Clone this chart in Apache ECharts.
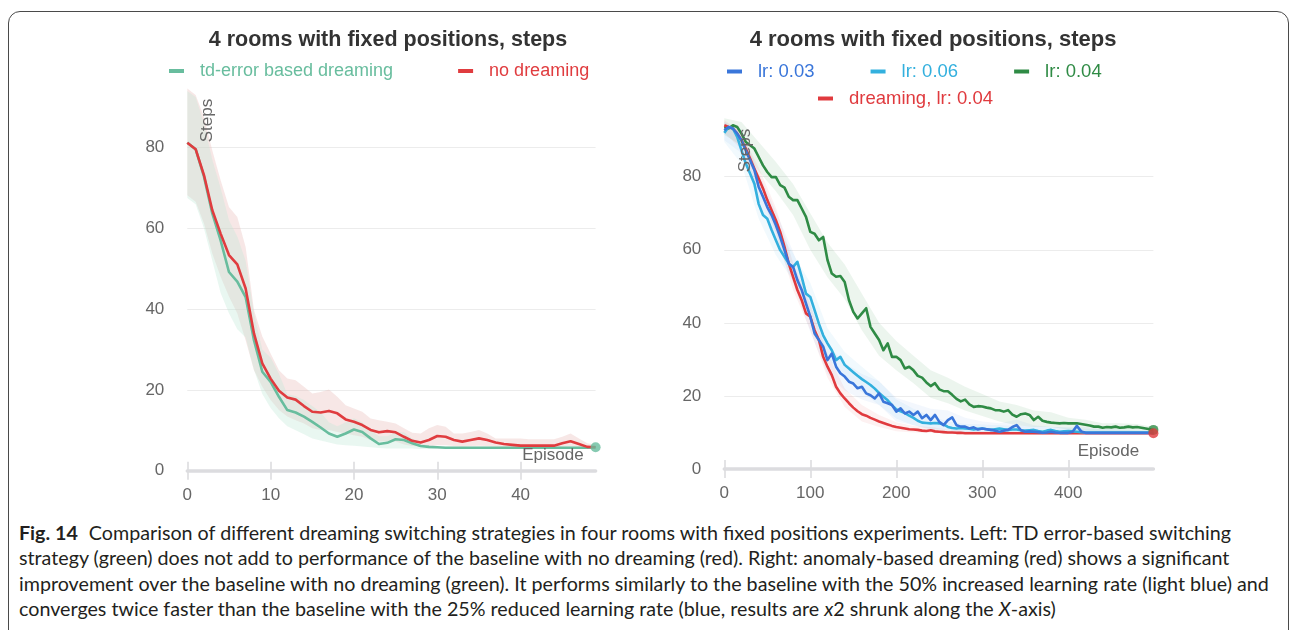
<!DOCTYPE html>
<html>
<head>
<meta charset="utf-8">
<script src="https://cdn.jsdelivr.net/npm/echarts@6/dist/echarts.min.js"></script>
<style>
  html, body { margin: 0; padding: 0; background: #fff; }
  body { width: 1293px; height: 630px; position: relative; overflow: hidden; }
  #frame {
    position: absolute; left: 8px; top: 11px; width: 1281px; height: 660px;
    border: 1.2px solid #4a4a4a; border-radius: 12px; box-sizing: border-box;
  }
  #chart { position: absolute; left: 0; top: 0; width: 1293px; height: 520px; }
  #caption {
    position: absolute; left: 19px; top: 520px;
    font-family: "Lato", "Open Sans", sans-serif; font-size: 19.7px; line-height: 25.3px;
    color: #231f20; white-space: nowrap;
  }
  #caption b { font-weight: 700; margin-right: 6px; }
</style>
</head>
<body>
<div id="frame"></div>
<div id="chart"></div>
<div id="caption">
  <div><b>Fig. 14</b> Comparison of different dreaming switching strategies in four rooms with fixed positions experiments. Left: TD error-based switching</div>
  <div>strategy (green) does not add to performance of the baseline with no dreaming (red). Right: anomaly-based dreaming (red) shows a significant</div>
  <div>improvement over the baseline with no dreaming (green). It performs similarly to the baseline with the 50% increased learning rate (light blue) and</div>
  <div>converges twice faster than the baseline with the 25% reduced learning rate (blue, results are <i>x</i>2 shrunk along the <i>X</i>-axis)</div>
</div>
<script>
// ---------- left panel: td-error switching vs. no dreaming ----------
const leftEpisodes = [0,1,2,3,4,5,6,7,8,9,10,11,12,13,14,15,16,17,18,19,20,21,22,23,24,25,26,27,28,29,30,31,32,33,34,35,36,37,38,39,40,41,42,43,44,45,46,47,48,49];
const leftTdError = [81.2,79.6,72.8,63.7,57.0,49.2,46.8,43.0,32.3,24.5,22.0,18.3,15.0,14.4,13.4,12.1,10.7,9.2,8.4,9.2,10.2,9.6,8.0,6.6,6.9,7.8,7.6,6.8,6.1,5.9,5.8,5.7,5.7,5.7,5.7,5.7,5.7,5.7,5.7,5.7,5.7,5.7,5.7,5.7,5.7,5.7,5.7,5.7,5.7,5.8];
const leftTdErrorUpper = [94.0,92.5,86.0,77.0,70.0,62.0,58.0,52.0,39.0,30.0,28.0,24.0,19.0,18.5,17.5,16.0,14.5,12.0,11.0,12.0,13.0,12.0,10.0,8.5,8.5,9.5,9.5,8.0,6.8,6.2,6.0,6.0,6.0,6.0,6.0,6.0,6.0,6.0,6.0,6.0,6.0,6.0,6.0,6.0,6.0,6.0,6.0,6.0,6.0,6.0];
const leftTdErrorLower = [67.5,66.0,60.0,52.0,44.0,39.0,35.0,33.0,25.0,19.0,15.5,13.0,11.0,10.0,9.0,8.0,7.5,7.0,6.5,6.3,6.2,6.0,5.8,5.6,5.5,5.5,5.5,5.5,5.4,5.4,5.4,5.4,5.4,5.4,5.4,5.4,5.4,5.4,5.4,5.4,5.4,5.4,5.4,5.4,5.4,5.4,5.4,5.4,5.4,5.4];
const leftNoDreaming = [81.2,79.6,73.2,64.5,58.7,53.4,51.1,45.1,34.0,26.6,22.8,19.8,18.1,17.6,16.0,14.6,14.4,14.8,14.2,12.7,12.1,11.3,10.1,9.5,9.8,9.5,8.4,7.4,7.0,7.6,8.6,8.4,7.6,7.2,7.6,8.0,7.6,7.0,6.6,6.4,6.2,6.2,6.2,6.2,6.2,6.8,7.3,6.6,5.9,5.8];
const leftNoDreamingUpper = [94.6,93.0,87.6,79.3,71.9,65.3,62.8,55.4,39.8,33.2,29.0,24.9,22.8,22.4,20.8,19.1,19.5,20.1,18.3,16.2,15.4,14.6,12.9,12.5,12.1,11.7,10.5,9.4,9.2,10.5,11.3,10.9,9.2,9.2,9.6,10.1,9.2,8.0,8.0,8.0,8.0,7.8,7.8,7.8,7.8,8.4,9.2,8.0,6.8,6.4];
const leftNoDreamingLower = [68.2,66.6,61.2,53.8,48.0,43.1,38.9,32.3,24.9,20.8,17.5,15.0,13.4,12.5,11.7,10.5,10.1,10.1,9.6,9.2,8.8,8.4,7.6,7.2,7.3,7.2,6.5,6.1,6.0,6.1,6.3,6.3,6.1,6.0,6.1,6.2,6.1,6.0,5.9,5.8,5.7,5.7,5.7,5.7,5.7,5.9,6.0,5.8,5.6,5.6];
const leftXTicks = [0,10,20,30,40];
const leftYTicks = [0,20,40,60,80];

// ---------- right panel: learning rates vs. anomaly-based dreaming ----------
const rightEpisodes = [0,5,10,15,20,25,30,35,40,45,50,55,60,65,70,75,80,85,90,95,100,105,110,115,120,125,130,135,140,145,150,155,160,165,170,175,180,185,190,195,200,205,210,215,220,225,230,235,240,245,250,255,260,265,270,275,280,285,290,295,300,305,310,315,320,325,330,335,340,345,350,355,360,365,370,375,380,385,390,395,400,405,410,415,420,425,430,435,440,445,450,455,460,465,470,475,480,485,490,495,499];
const rightLr003 = [92.7,93.6,93.2,91.8,90.0,87.2,84.5,81.8,77.2,74.5,71.7,69.5,66.7,63.5,59.9,56.2,55.3,51.7,49.0,45.3,41.7,37.1,35.3,33.5,29.8,31.6,28.0,26.2,25.3,23.9,23.4,22.1,22.5,20.7,20.2,19.3,20.7,18.4,18.0,17.5,15.7,16.6,15.2,15.7,14.8,15.7,13.9,14.8,13.4,14.8,12.9,12.0,13.4,14.1,12.0,11.6,11.6,11.1,11.4,10.8,11.1,10.9,10.7,10.5,10.2,10.5,10.7,11.5,12.0,10.6,10.2,10.3,10.2,10.1,9.9,10.0,10.2,10.0,9.9,9.9,9.9,10.2,11.8,10.3,9.9,9.9,9.9,9.9,9.9,9.9,9.9,9.9,9.9,9.9,9.9,9.9,9.9,9.9,9.9,9.9,9.9];
const rightLr006 = [92.0,93.6,93.2,90.9,87.2,83.6,80.9,78.1,72.5,69.5,68.5,65.4,62.6,59.9,58.1,56.2,55.3,56.7,52.6,48.0,47.1,43.5,39.8,36.6,34.4,32.5,29.8,30.7,28.5,27.5,26.5,25.5,24.6,23.8,23.0,22.0,20.8,19.8,18.8,17.5,16.3,15.8,15.3,14.6,14.0,13.2,12.7,12.6,12.5,12.6,12.5,12.2,11.5,11.2,11.1,11.2,11.1,11.0,10.8,11.0,11.1,10.9,10.7,10.9,11.1,10.9,10.7,10.8,10.8,10.6,10.5,10.6,10.7,10.4,10.2,10.5,10.7,10.4,10.2,10.3,10.4,10.3,10.2,10.1,10.0,10.0,10.0,10.0,10.0,10.0,10.0,10.0,10.0,10.0,10.0,10.0,10.0,10.0,10.0,10.0,10.0];
const rightLr004 = [93.6,93.2,94.1,93.6,91.8,89.5,88.6,87.7,85.4,83.1,81.3,79.9,79.9,77.7,77.0,74.5,73.6,73.6,71.3,69.0,64.9,64.4,62.6,63.5,57.2,53.5,52.6,52.8,51.2,46.2,43.0,41.2,42.6,44.0,38.9,37.1,35.3,32.5,34.4,30.7,30.7,29.8,27.5,28.0,27.0,25.5,25.0,23.7,22.7,23.5,21.8,21.3,21.3,20.3,19.2,18.5,19.0,17.7,17.0,17.2,17.1,16.8,16.6,16.1,16.1,15.7,16.1,14.9,14.3,15.0,15.2,14.8,13.4,14.3,13.2,12.9,12.7,12.6,12.5,12.6,12.5,12.5,12.5,12.3,12.1,11.9,11.6,11.6,11.3,11.5,11.4,11.6,11.3,11.4,11.6,11.4,11.5,11.3,11.1,10.9,10.7];
const rightDreaming = [94.1,93.6,93.2,91.8,90.0,87.7,85.0,82.2,79.5,76.8,73.6,70.8,68.1,64.9,60.8,56.2,52.6,49.0,46.2,42.6,41.7,38.0,35.3,30.7,28.0,25.7,22.5,20.7,19.3,18.0,16.8,15.8,15.0,14.6,14.0,13.5,13.0,12.6,12.2,11.8,11.5,11.3,11.1,10.9,10.8,10.7,10.5,10.4,10.6,10.3,10.2,10.1,10.0,10.0,9.9,9.9,9.8,9.8,9.8,9.8,9.8,9.8,9.8,9.8,9.8,9.8,9.8,9.8,9.8,9.8,9.8,9.8,9.8,9.8,9.8,9.8,9.8,9.8,9.8,9.8,9.8,9.8,9.8,9.8,9.8,9.8,9.8,9.8,9.8,9.8,9.8,9.8,9.8,9.8,9.8,9.8,9.8,9.8,9.8,9.8,9.8];

// spread bands, sampled more coarsely
const rightBandEpisodes = [0,20,40,60,80,100,120,140,160,180,200,220,240,260,280,300,320,340,360,380,400,420,440,460,480,499];
const rightLr003Upper = [95,93,81,70.5,59.5,46,34,29,26,24,19.5,18,16.5,16,14,13,12.5,13.5,12,11.5,11.5,11.5,11,10.8,10.5,10.3];
const rightLr003Lower = [90,86.5,73,62.5,51,37.5,26,21.5,19,17.5,13,12,11,10.8,9.8,9.6,9.4,9.5,9.4,9.4,9.4,9.4,9.4,9.4,9.4,9.4];
const rightLr006Upper = [95,90.5,76.5,66.5,59,51,38.5,32,28,24,19,16.5,14.5,13,12.3,12.2,12,11.8,11.6,11.5,11.2,11,10.8,10.8,10.8,10.8];
const rightLr006Lower = [89.5,83.5,68.5,58.5,51.5,43,30.5,25,21,17.5,13.8,12,10.8,10.2,10,10,10,9.9,9.8,9.8,9.7,9.6,9.6,9.6,9.6,9.6];
const rightLr004Upper = [96,95,89.5,84,78,70,62,56,48,40,35,31,27,25,22.5,20.5,18.5,17.5,16,15.5,14,13.5,12.5,12.5,12.3,11.5];
const rightLr004Lower = [91.5,88.5,81.5,76,69.5,60,52.5,46.5,38,31,27,23.5,19.5,18,16,14.5,13,12,11.5,11.5,10.8,10.5,10.2,10.2,10.2,10];
const rightDreamingUpper = [95.5,92,82.5,71.5,56.5,45,31.5,22,17.5,14.8,12.8,11.8,11.5,10.8,10.4,10.3,10.3,10.2,10.2,10.2,10.2,10.2,10.2,10.2,10.2,10.2];
const rightDreamingLower = [92,87.5,76.5,64.5,49,38,25,17,13,11.5,10.3,10,9.9,9.6,9.5,9.5,9.5,9.5,9.5,9.5,9.5,9.5,9.5,9.5,9.5,9.5];
const rightXTicks = [0,100,200,300,400];
const rightYTicks = [0,20,40,60,80];

const COLORS = {
  tdError: '#68bd9e',
  noDreaming: '#e03c3f',
  lr003: '#3a76da',
  lr006: '#33b0de',
  lr004: '#2f8b45',
  dreaming: '#e03a3e'
};
const FONT = 'Liberation Sans, Arial, sans-serif';
const AXIS_GREY = '#dcdcdf';
const LABEL_GREY = '#666';

const pairs = (xs, ys) => xs.map((x, i) => [x, ys[i]]);

// shaded spread between a lower and an upper curve, drawn as one polygon
function band(xs, lower, upper, color, opacity, axis) {
  return {
    type: 'custom', xAxisIndex: axis.x, yAxisIndex: axis.y, silent: true, z: 1,
    data: xs.map((x, i) => [x, lower[i], upper[i]]),
    encode: { x: 0, y: [1, 2] },
    renderItem: function (params, api) {
      if (params.dataIndex !== 0) return null;
      const top = xs.map((x, i) => api.coord([x, upper[i]]));
      const bottom = xs.map((x, i) => api.coord([x, lower[i]])).reverse();
      return {
        type: 'polygon',
        shape: { points: top.concat(bottom) },
        style: { fill: color, opacity: opacity }
      };
    }
  };
}

function mainLine(name, xs, ys, color, axis, z) {
  return {
    type: 'line', name: name, xAxisIndex: axis.x, yAxisIndex: axis.y,
    data: pairs(xs, ys), showSymbol: false, color: color, z: z,
    lineStyle: { width: 2.6, color: color, join: 'round' }
  };
}

function endDot(name, xs, ys, color, axis, z) {
  const n = xs.length - 1;
  return {
    type: 'scatter', name: name + '-end', xAxisIndex: axis.x, yAxisIndex: axis.y,
    data: [[xs[n], ys[n]]], symbolSize: 10, itemStyle: { color: color }, z: z, silent: true
  };
}

function xAxisPair(gridIndex, max, ticks) {
  const common = {
    type: 'value', gridIndex: gridIndex, min: 0, max: max, position: 'bottom',
    splitLine: { show: false }
  };
  return [
    Object.assign({}, common, {
      axisLine: { show: true, onZero: false, lineStyle: { color: AXIS_GREY, width: 3.5 } },
      axisTick: { show: true, customValues: ticks, length: 9, inside: false, lineStyle: { color: AXIS_GREY, width: 1.6 } },
      axisLabel: { customValues: ticks, margin: 16, color: LABEL_GREY, fontSize: 17, fontFamily: FONT }
    }),
    Object.assign({}, common, {
      axisLine: { show: false, onZero: false },
      axisTick: { show: true, customValues: ticks, length: 9, inside: true, lineStyle: { color: AXIS_GREY, width: 1.6 } },
      axisLabel: { show: false }
    })
  ];
}

function yAxis(gridIndex, max, ticks) {
  return {
    type: 'value', gridIndex: gridIndex, min: 0, max: max,
    axisLine: { show: false },
    axisTick: { show: false, customValues: ticks },
    axisLabel: { customValues: ticks, margin: 23, color: LABEL_GREY, fontSize: 17, fontFamily: FONT },
    splitLine: { show: true, showMinLine: false, lineStyle: { color: '#ececec', width: 1 } }
  };
}

const L = { x: 0, y: 0 };
const R = { x: 2, y: 1 };

const legendText = (color) => ({ color: color, padding: [0, 0, 0, 11] });

const option = {
  animation: false,
  backgroundColor: 'transparent',
  title: [
    {
      text: '4 rooms with fixed positions, steps', left: 383, top: 24, textAlign: 'center',
      textStyle: { fontFamily: FONT, fontSize: 21.5, fontWeight: 'bold', color: '#333' }
    },
    {
      text: '4 rooms with fixed positions, steps', left: 928, top: 24, textAlign: 'center',
      textStyle: { fontFamily: FONT, fontSize: 22, fontWeight: 'bold', color: '#333' }
    }
  ],
  legend: [
    {
      left: 169, top: 62, padding: 0, icon: 'rect', itemWidth: 15, itemHeight: 4, itemGap: 65, selectedMode: false,
      textStyle: { fontFamily: FONT, fontSize: 18 },
      data: [
        { name: 'td-error based dreaming', textStyle: legendText(COLORS.tdError) },
        { name: 'no dreaming', textStyle: legendText(COLORS.noDreaming) }
      ]
    },
    {
      left: 727, top: 62, padding: 0, icon: 'rect', itemWidth: 15, itemHeight: 4, itemGap: 56, selectedMode: false,
      textStyle: { fontFamily: FONT, fontSize: 18.5 },
      data: [
        { name: 'lr: 0.03', textStyle: legendText(COLORS.lr003) },
        { name: 'lr: 0.06', textStyle: legendText(COLORS.lr006) },
        { name: 'lr: 0.04', textStyle: legendText(COLORS.lr004) }
      ]
    },
    {
      left: 818, top: 89, padding: 0, icon: 'rect', itemWidth: 15, itemHeight: 4, selectedMode: false,
      textStyle: { fontFamily: FONT, fontSize: 18.5 },
      data: [
        { name: 'dreaming, lr: 0.04', textStyle: legendText(COLORS.dreaming) }
      ]
    }
  ],
  grid: [
    { left: 187.3, right: 697.4, top: 87, bottom: 49.3 },
    { left: 724.3, right: 139.6, top: 114.6, bottom: 51 }
  ],
  xAxis: [].concat(xAxisPair(0, 49, leftXTicks), xAxisPair(1, 499, rightXTicks)),
  yAxis: [yAxis(0, 95, leftYTicks), yAxis(1, 97, rightYTicks)],
  graphic: [
    { type: 'text', x: 207, y: 120.5, rotation: Math.PI / 2, z: 50,
      style: { text: 'Steps', fill: LABEL_GREY, font: '17px ' + FONT, textAlign: 'center', textVerticalAlign: 'middle' } },
    { type: 'text', x: 553, y: 455, z: 50,
      style: { text: 'Episode', fill: LABEL_GREY, font: '17px ' + FONT, textAlign: 'center', textVerticalAlign: 'middle' } },
    { type: 'text', x: 745.5, y: 150.5, rotation: Math.PI / 2, z: 50,
      style: { text: 'Steps', fill: LABEL_GREY, font: '17px ' + FONT, textAlign: 'center', textVerticalAlign: 'middle' } },
    { type: 'text', x: 1108.5, y: 451.5, z: 50,
      style: { text: 'Episode', fill: LABEL_GREY, font: '17px ' + FONT, textAlign: 'center', textVerticalAlign: 'middle' } }
  ],
  series: [
    // left spreads and curves
    band(leftEpisodes, leftNoDreamingLower, leftNoDreamingUpper, '#e6b4b0', 0.32, L),
    band(leftEpisodes, leftTdErrorLower, leftTdErrorUpper, '#bfe8d8', 0.35, L),
    mainLine('td-error based dreaming', leftEpisodes, leftTdError, COLORS.tdError, L, 3),
    mainLine('no dreaming', leftEpisodes, leftNoDreaming, COLORS.noDreaming, L, 4),
    endDot('td-error based dreaming', leftEpisodes, leftTdError, COLORS.tdError, L, 6),
    // right spreads and curves
    band(rightBandEpisodes, rightLr004Lower, rightLr004Upper, COLORS.lr004, 0.09, R),
    band(rightBandEpisodes, rightDreamingLower, rightDreamingUpper, COLORS.dreaming, 0.07, R),
    band(rightBandEpisodes, rightLr006Lower, rightLr006Upper, COLORS.lr006, 0.07, R),
    band(rightBandEpisodes, rightLr003Lower, rightLr003Upper, COLORS.lr003, 0.06, R),
    mainLine('lr: 0.04', rightEpisodes, rightLr004, COLORS.lr004, R, 3),
    mainLine('dreaming, lr: 0.04', rightEpisodes, rightDreaming, COLORS.dreaming, R, 4),
    mainLine('lr: 0.06', rightEpisodes, rightLr006, COLORS.lr006, R, 4),
    mainLine('lr: 0.03', rightEpisodes, rightLr003, COLORS.lr003, R, 5),
    endDot('lr: 0.04', rightEpisodes, rightLr004, COLORS.lr004, R, 6),
    endDot('dreaming, lr: 0.04', rightEpisodes, rightDreaming, COLORS.dreaming, R, 7)
  ]
};

const chart = echarts.init(document.getElementById('chart'), null, { renderer: 'canvas' });
chart.setOption(option);
</script>
</body>
</html>
